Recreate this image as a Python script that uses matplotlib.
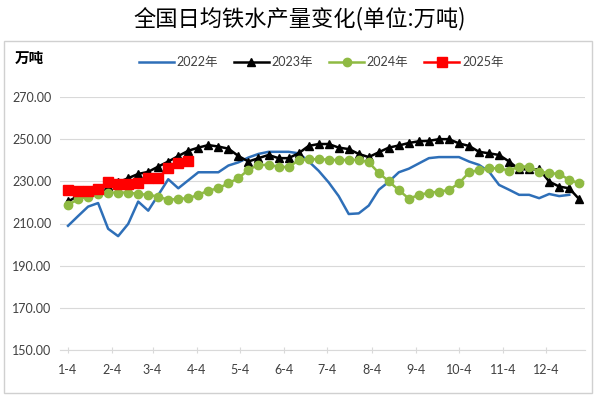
import datetime as dt
import numpy as np
import matplotlib.pyplot as plt
from matplotlib.patches import Rectangle

plt.rcParams['font.family'] = ['Lato', 'Noto Sans CJK SC', 'DejaVu Sans']

# ── data (weekly) ─────────────────────────────────────────────────────────────

months = ['1-4', '2-4', '3-4', '4-4', '5-4', '6-4', '7-4', '8-4', '9-4',
          '10-4', '11-4', '12-4']

y2022 = [208.9, 213.5, 218.0, 219.7, 207.5, 204.0, 209.8, 220.4, 216.1, 223.5,
         231.0, 226.7, 230.5, 234.3, 234.3, 234.3, 237.5, 239.0, 241.3, 243.0,
         244.0, 244.0, 244.0, 243.3, 239.5, 235.0, 229.5, 223.0, 214.5, 214.8,
         218.5, 226.0, 229.8, 234.3, 236.0, 238.5, 241.0, 241.5, 241.5, 241.5,
         239.4, 237.8, 234.6, 228.3, 226.0, 223.6, 223.6, 222.0, 224.0, 223.0,
         223.6]

y2023 = [220.5, 223.0, 224.5, 226.0, 228.0, 229.5, 231.5, 233.5, 234.5, 237.0,
         239.4, 242.0, 244.5, 246.0, 247.2, 246.5, 245.5, 242.0, 239.4, 241.0,
         242.5, 241.0, 241.0, 243.3, 246.8, 247.7, 247.7, 246.0, 245.3, 243.0,
         241.5, 243.8, 246.0, 247.0, 248.2, 249.0, 249.2, 250.0, 250.0, 248.0,
         246.8, 244.0, 243.3, 242.5, 239.4, 235.7, 235.7, 235.7, 229.9, 227.5,
         226.7, 221.5]

y2024 = [218.8, 221.5, 222.8, 224.0, 224.7, 224.7, 224.7, 224.0, 223.6, 222.8,
         221.2, 221.7, 222.0, 223.6, 225.6, 226.7, 229.1, 231.5, 235.5, 237.8,
         237.8, 237.0, 236.7, 240.0, 240.5, 240.5, 240.3, 240.0, 240.2, 240.2,
         239.0, 234.0, 230.0, 225.8, 221.8, 223.5, 224.6, 225.1, 225.9, 229.1,
         234.2, 235.4, 236.2, 236.2, 235.1, 237.0, 237.0, 234.6, 233.9, 233.5,
         230.7, 229.1]

y2025 = [226.0, 225.5, 225.5, 226.5, 229.5, 228.5, 228.5, 229.0, 231.5, 231.5,
         236.5, 238.5, 239.5]

# x = days since Jan 4, one point per week
def days(n):
    return np.arange(n) * 7

month_days = [(dt.date(2023, m, 4) - dt.date(2023, 1, 4)).days for m in range(1, 13)]

# ── plot ──────────────────────────────────────────────────────────────────────

fig = plt.figure(figsize=(6.0, 3.98), dpi=100)
W, H = 600, 398
ax = fig.add_axes([60 / W, 1 - 350 / H, (585 - 60) / W, (350 - 97) / H])

ax.plot(days(len(y2022)), y2022, color='#2E6FB8', lw=1.8, label='2022年', zorder=3)
ax.plot(days(len(y2023)), y2023, color='black', lw=1.8, marker='^', ms=5.5,
        label='2023年', zorder=4)
ax.plot(days(len(y2024)), y2024, color='#8FBA43', lw=1.8, marker='o', ms=6,
        label='2024年', zorder=5)
ax.plot(days(len(y2025)), y2025, color='#FF0000', lw=1.8, marker='s', ms=6.5,
        label='2025年', zorder=6)

ax.set_ylim(150, 270)
ax.set_yticks(np.arange(150, 271, 20))
ax.set_yticklabels([f'{v:.2f}' for v in np.arange(150, 271, 20)])
ax.set_xlim(-5.6, 361)
ax.set_xticks(month_days)
ax.set_xticklabels(months)

ax.grid(axis='y', color='#D9D9D9', lw=0.8)
ax.set_axisbelow(True)
for side in ['top', 'right', 'left']:
    ax.spines[side].set_visible(False)
ax.spines['bottom'].set_color('#D9D9D9')
ax.tick_params(axis='y', length=0, labelsize=9, labelcolor='#404040', pad=6)
ax.tick_params(axis='x', length=4, color='#D9D9D9', direction='inout',
               labelsize=9, labelcolor='#404040', pad=8)

# frame round the chart area
fig.patches.append(Rectangle((4 / W, 1 - 393 / H), 588 / W, 352 / H,
                             transform=fig.transFigure, fill=False,
                             edgecolor='#D0D0D0', lw=1))

fig.text(0.5, 1 - 19 / H, '全国日均铁水产量变化(单位:万吨)', ha='center', va='center',
         fontsize=16, family=['Noto Sans CJK SC', 'DejaVu Sans'])
fig.text(15 / W, 1 - 58 / H, '万吨', ha='left', va='center', fontsize=10.5,
         fontweight='bold', family=['Noto Sans CJK SC', 'DejaVu Sans'])

fig.legend(loc='center', bbox_to_anchor=(321 / W, 1 - 62 / H), ncol=4,
           frameon=False, fontsize=9, handlelength=2.8, handletextpad=0.2,
           columnspacing=1.3, labelcolor='#404040')

fig.savefig('out.png', dpi=100)
